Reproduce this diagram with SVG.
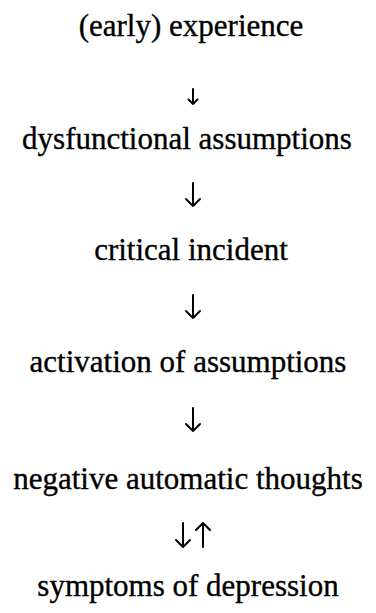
<svg xmlns="http://www.w3.org/2000/svg" width="376" height="613" viewBox="0 0 376 613">
<style>
.t{font-family:"Liberation Serif","Times New Roman",serif;font-size:31px;fill:#000;stroke:#000;stroke-width:0.35;text-anchor:middle}
.c{fill:none;stroke:#000;stroke-width:2;stroke-linecap:round;stroke-linejoin:round}
</style>
<rect width="376" height="613" fill="#fff"/>
<g id="n1"><text class="t" x="191" y="36">(early) experience</text></g>
<g id="n2"><text class="t" x="187" y="149">dysfunctional assumptions</text></g>
<g id="n3"><text class="t" x="191" y="260">critical incident</text></g>
<g id="n4"><text class="t" x="188" y="372">activation of assumptions</text></g>
<g id="n5"><text class="t" x="188" y="489">negative automatic thoughts</text></g>
<g id="n6"><text class="t" x="188" y="596">symptoms of depression</text></g>
<g id="connectors">
<path class="c" d="M193 89V104M188.5 99.5L193 104L197.5 99.5"/>
<path class="c" d="M193 183V206M186 199L193 206L200 199"/>
<path class="c" d="M193 295V318M186 311L193 318L200 311"/>
<path class="c" d="M193 408V431M186 424L193 431L200 424"/>
<path class="c" d="M183 523V547M176 540L183 547L190 540"/>
<path class="c" d="M203 547V523M196 530L203 523L210 530"/>
</g>
</svg>
